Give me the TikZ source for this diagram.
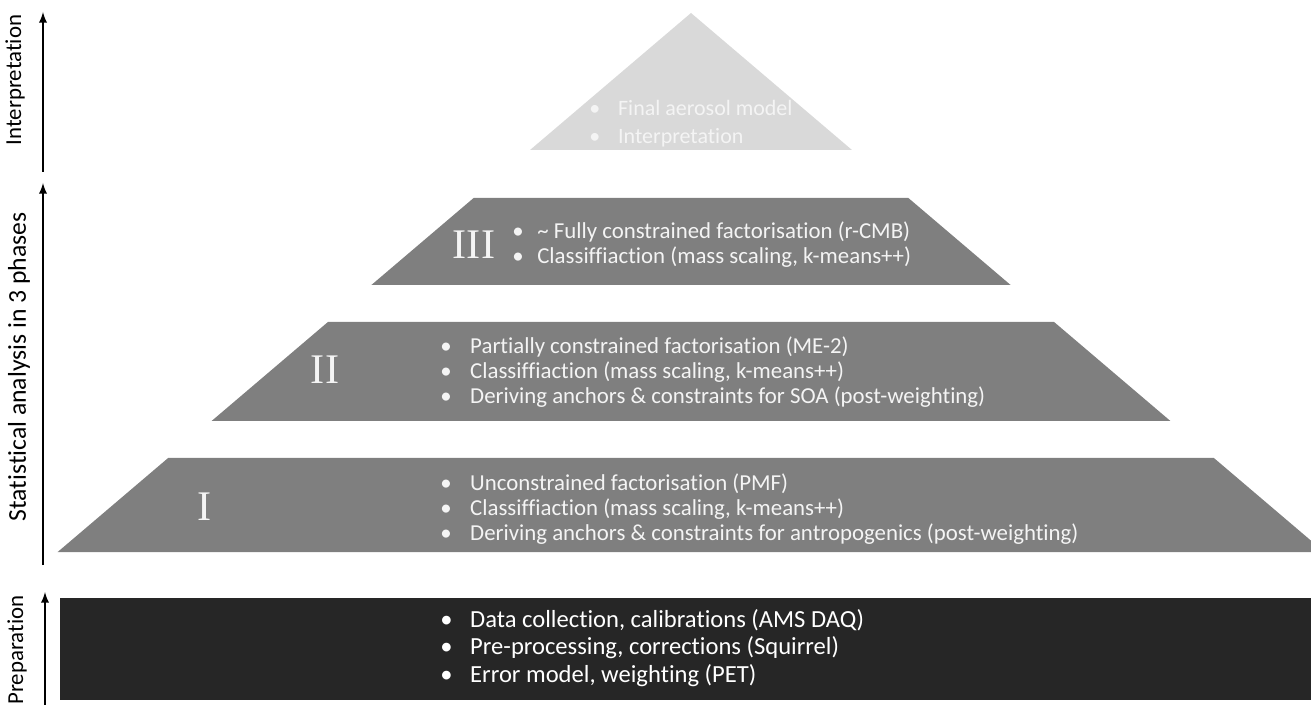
\documentclass[tikz,border=0pt]{standalone}
\usepackage{fontspec}
\setmainfont{Carlito}[Ligatures=NoCommon]
\newfontfamily\romfont{Liberation Serif}
\definecolor{lvltop}{HTML}{D9D9D9}
\definecolor{lvlmid}{HTML}{7F7F7F}
\definecolor{lvlbase}{HTML}{262626}
\definecolor{txtw}{HTML}{F4F4F4}
\newcommand{\bul}[2][17pt]{\makebox[#1][l]{\textbullet}#2}

\begin{document}
\begin{tikzpicture}[x=0.02cm,y=-0.02cm,
  lvltxt/.style={text=txtw,align=left,inner sep=0pt,anchor=west,font=\fontsize{13}{14.2}\selectfont},
  roman/.style={text=txtw,inner sep=0pt,font=\romfont\fontsize{24}{24}\selectfont},
  side/.style={rotate=90,inner sep=0pt,font=\fontsize{13}{13}\selectfont},
  up/.style={-latex,line width=1.1pt}]
\clip (0,0) rectangle (1311,705);

\pgfmathsetmacro{\slope}{1.175}
\coordinate (apex) at (691,13);

% pyramid
\fill[lvltop] (apex) -- ({691+\slope*137},150) -- ({691-\slope*137},150) -- cycle;
\foreach \t/\b in {198/285,322/421,458/552}
  \fill[lvlmid] ({691-\slope*(\t-13)},\t) -- ({691+\slope*(\t-13)},\t)
    -- ({691+\slope*(\b-13)},\b) -- ({691-\slope*(\b-13)},\b) -- cycle;
\fill[lvlbase] (60,598) rectangle (1311,700);

% texts
\node[lvltxt,font=\fontsize{12.5}{15.9}\selectfont] (toptxt) at (589,124)
  {\bul[16.4pt]{Final aerosol model}\\\bul[16.4pt]{Interpretation}};
\node[roman] (r3) at (474,245) {III};
\node[lvltxt] (lvl3txt) at (512,245)
  {\bul[14.2pt]{\textasciitilde\ Fully constrained factorisation (r-CMB)}\\\bul[14.2pt]{Classiffiaction (mass scaling, k-means++)}};
\node[roman] (r2) at (325,370) {II};
\node[lvltxt] (lvl2txt) at (440,372)
  {\bul{Partially constrained factorisation (ME-2)}\\\bul{Classiffiaction (mass scaling, k-means++)}\\\bul{Deriving anchors \& constraints for SOA (post-weighting)}};
\node[roman] (r1) at (205,507) {I};
\node[lvltxt] (lvl1txt) at (440,509)
  {\bul{Unconstrained factorisation (PMF)}\\\bul{Classiffiaction (mass scaling, k-means++)}\\\bul{Deriving anchors \& constraints for antropogenics (post-weighting)}};
\node[lvltxt,text=white,font=\fontsize{14}{15.6}\selectfont] (preptxt) at (440,648)
  {\bul{Data collection, calibrations (AMS DAQ)}\\\bul{Pre-processing, corrections (Squirrel)}\\\bul{Error model, weighting (PET)}};

% side labels and arrows
\node[side] (interp) at (15,80) {Interpretation};
\node[side,font=\fontsize{14.6}{14.6}\selectfont] (stats) at (19,367) {Statistical analysis in 3 phases};
\node[side,anchor=west] (prep) at (17,705) {Preparation};
\coordinate (a1s) at (43,172);
\coordinate (a1e) at (43,12);
\coordinate (a2s) at (43,565);
\coordinate (a2e) at (43,183);
\coordinate (a3s) at (45,705);
\coordinate (a3e) at (45,592);
\draw[up] (a1s) -- (a1e);
\draw[up] (a2s) -- (a2e);
\draw[up] (a3s) -- (a3e);
\end{tikzpicture}
\end{document}
